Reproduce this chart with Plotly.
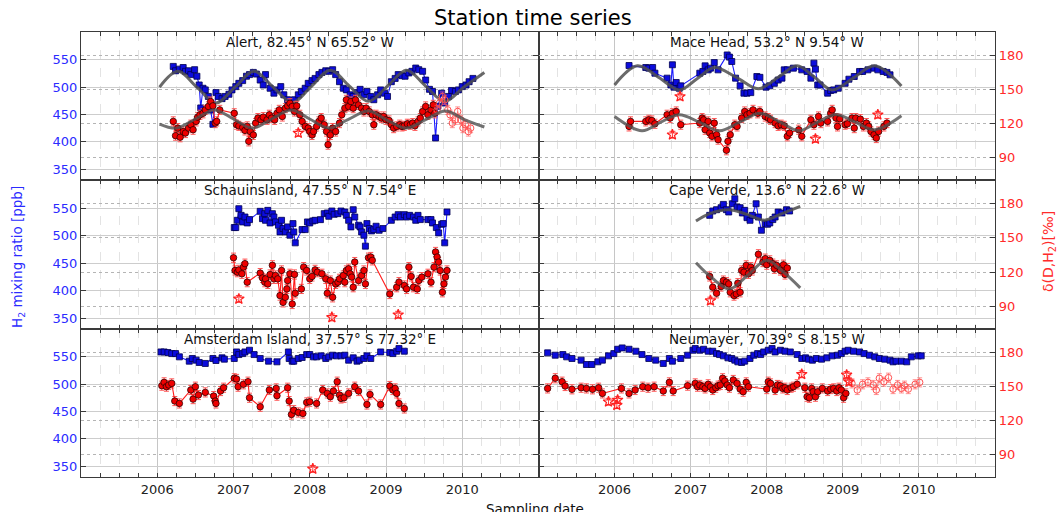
import plotly.graph_objects as go

# ======================= DATA =======================
# ---- Alert ----
ALERT_H2_T = [2006.21, 2006.24, 2006.29, 2006.34, 2006.37, 2006.41, 2006.44, 2006.49, 2006.52, 2006.55,
              2006.57, 2006.60, 2006.63, 2006.67, 2006.70, 2006.73, 2006.77, 2006.80, 2006.85, 2006.89,
              2006.94, 2006.98, 2007.03, 2007.07, 2007.12, 2007.17, 2007.21, 2007.26, 2007.30, 2007.35,
              2007.39, 2007.42, 2007.48, 2007.53, 2007.57, 2007.62, 2007.66, 2007.71, 2007.76, 2007.80,
              2007.85, 2007.89, 2007.94, 2007.98, 2008.03, 2008.07, 2008.12, 2008.16, 2008.21, 2008.25,
              2008.30, 2008.34, 2008.39, 2008.44, 2008.48, 2008.53, 2008.57, 2008.62, 2008.66, 2008.71,
              2008.75, 2008.80, 2008.84, 2008.89, 2008.93, 2008.98, 2009.02, 2009.07, 2009.12, 2009.16,
              2009.21, 2009.25, 2009.30, 2009.34, 2009.39, 2009.43, 2009.48, 2009.52, 2009.57, 2009.61,
              2009.65, 2009.68, 2009.73, 2009.77, 2009.82, 2009.86, 2009.91, 2009.95, 2010.00, 2010.05,
              2010.09, 2010.14]
ALERT_H2 = [538, 530, 533, 536, 529, 530, 523, 532, 520, 504,
            462, 498, 495, 483, 458, 432, 490, 483, 479, 483,
            487, 495, 501, 507, 512, 520, 523, 527, 524, 513,
            504, 523, 498, 489, 495, 501, 486, 477, 463, 477,
            486, 492, 498, 507, 512, 516, 523, 527, 530, 529,
            532, 523, 510, 498, 495, 486, 483, 490, 496, 486,
            492, 483, 477, 486, 495, 489, 483, 510, 516, 523,
            521, 520, 526, 529, 535, 532, 529, 513, 496, 492,
            407, 465, 489, 471, 483, 494, 492, 495, 501, 504,
            510, 516]
ALERT_D_T = [2006.21, 2006.24, 2006.27, 2006.30, 2006.34, 2006.37, 2006.41, 2006.44, 2006.47, 2006.51,
             2006.53, 2006.56, 2006.60, 2006.63, 2006.67, 2006.70, 2006.73, 2006.76, 2006.78, 2006.82,
             2007.01, 2007.04, 2007.07, 2007.12, 2007.15, 2007.18, 2007.20, 2007.22, 2007.26, 2007.29,
             2007.32, 2007.36, 2007.39, 2007.44, 2007.47, 2007.50, 2007.54, 2007.57, 2007.60, 2007.64,
             2007.68, 2007.71, 2007.74, 2007.77, 2007.80, 2007.83, 2007.87, 2007.90, 2007.94, 2007.98,
             2008.00, 2008.03, 2008.05, 2008.09, 2008.12, 2008.15, 2008.19, 2008.22, 2008.24, 2008.27,
             2008.30, 2008.34, 2008.39, 2008.42, 2008.46, 2008.48, 2008.51, 2008.54, 2008.57, 2008.60,
             2008.64, 2008.68, 2008.71, 2008.74, 2008.78, 2008.82, 2008.84, 2008.87, 2008.91, 2008.94,
             2008.97, 2009.00, 2009.04, 2009.07, 2009.10, 2009.14, 2009.18, 2009.21, 2009.24, 2009.28,
             2009.32, 2009.35, 2009.38, 2009.42, 2009.45, 2009.48, 2009.52, 2009.55, 2009.59, 2009.62,
             2009.64]
ALERT_D = [121.9, 109.4, 116.0, 108.0, 113.0, 111.7, 116.0, 119.0, 114.6, 121.9,
           125.6, 127.7, 129.0, 132.0, 135.0, 139.3, 135.5, 120.4, 121.9, 132.0,
           129.0, 119.0, 118.0, 116.6, 114.0, 117.5, 104.4, 113.0, 110.0, 120.4,
           124.8, 123.3, 125.6, 123.3, 127.7, 124.8, 123.3, 129.0, 132.0, 126.2,
           133.5, 135.5, 137.8, 135.0, 130.6, 135.5, 127.7, 121.9, 117.5, 116.0,
           113.0, 110.0, 113.0, 117.5, 121.9, 124.8, 119.0, 113.0, 101.5, 110.0,
           116.0, 113.0, 120.4, 127.7, 133.5, 140.8, 135.0, 139.3, 133.5, 140.8,
           136.4, 133.5, 130.6, 133.5, 130.6, 127.7, 119.0, 127.7, 126.2, 124.8,
           126.2, 123.3, 122.7, 119.0, 116.0, 117.5, 119.0, 117.5, 118.0, 119.8,
           119.0, 120.4, 118.0, 121.9, 124.8, 130.6, 135.0, 127.7, 132.0, 136.4,
           129.0]
ALERT_OPEN_T = [2009.67, 2009.70, 2009.74, 2009.77, 2009.81, 2009.84, 2009.87, 2009.91, 2009.94, 2009.98,
                2010.01, 2010.04, 2010.08, 2010.11]
ALERT_OPEN = [132.0, 137.8, 143.7, 140.8, 132.0, 127.7, 120.4, 123.3, 130.6, 123.3,
              116.0, 119.0, 113.0, 116.0]
ALERT_STAR_T = [2007.85]
ALERT_STAR = [111.7]
ALERT_FIT_H2_T = [2006.03, 2006.27, 2006.52, 2006.77, 2007.02, 2007.27, 2007.52, 2007.77, 2008.02, 2008.27,
                  2008.52, 2008.77, 2009.02, 2009.27, 2009.52, 2009.77, 2010.02, 2010.29]
ALERT_FIT_H2 = [500, 529, 500, 471, 500, 529, 500, 472, 501, 531, 502, 474, 502, 531, 502, 474, 500, 527]
ALERT_FIT_D_T = [2006.03, 2006.25, 2006.50, 2006.75, 2007.00, 2007.25, 2007.50, 2007.76, 2008.00, 2008.25,
                 2008.50, 2008.77, 2009.00, 2009.27, 2009.52, 2009.78, 2010.03, 2010.29]
ALERT_FIT_D = [119.5, 116, 124, 132, 124, 116, 124, 132, 124, 116, 123.5, 131, 123.5, 116, 123.5, 131, 123.5, 117]

# ---- Mace Head ----
MACE_H2_T = [2006.19, 2006.41, 2006.45, 2006.50, 2006.53, 2006.69, 2006.74, 2006.76, 2006.78, 2006.81,
             2006.85, 2006.87, 2007.12, 2007.16, 2007.19, 2007.23, 2007.26, 2007.31, 2007.36, 2007.48,
             2007.51, 2007.54, 2007.59, 2007.65, 2007.70, 2007.74, 2007.79, 2007.87, 2007.91, 2007.99,
             2008.04, 2008.10, 2008.15, 2008.20, 2008.23, 2008.27, 2008.35, 2008.46, 2008.53, 2008.58,
             2008.62, 2008.64, 2008.67, 2008.70, 2008.80, 2008.84, 2008.88, 2008.94, 2009.03, 2009.08,
             2009.15, 2009.22, 2009.26, 2009.33, 2009.41, 2009.46, 2009.53, 2009.58, 2009.62]
MACE_H2 = [539.6, 536, 534.8, 536, 525.6, 516.5, 504, 541, 500, 508.5,
           498, 502.4, 525.6, 528.7, 539, 531.7, 534.8, 545, 531.7, 559,
           555, 547, 516.5, 502.4, 489, 489, 490, 519.5, 518, 500,
           502.4, 507, 513, 516.5, 531.7, 531.7, 534.8, 531.7, 528.7, 516.5,
           544, 533, 504, 504, 489, 494, 495, 498, 507, 514.6,
           519.5, 528.7, 528.7, 531.7, 534.8, 531.7, 528.7, 527, 522.6]
MACE_D_T = [2006.19, 2006.21, 2006.41, 2006.45, 2006.49, 2006.53, 2006.69, 2006.73, 2006.76, 2006.81,
            2006.87, 2007.12, 2007.15, 2007.17, 2007.19, 2007.23, 2007.25, 2007.28, 2007.31, 2007.34,
            2007.36, 2007.47, 2007.49, 2007.52, 2007.58, 2007.61, 2007.67, 2007.71, 2007.74, 2007.78,
            2007.82, 2007.88, 2007.91, 2007.98, 2008.02, 2008.05, 2008.11, 2008.15, 2008.19, 2008.23,
            2008.27, 2008.30, 2008.42, 2008.46, 2008.58, 2008.62, 2008.68, 2008.71, 2008.80, 2008.84,
            2008.86, 2008.91, 2008.93, 2008.96, 2009.03, 2009.06, 2009.12, 2009.15, 2009.17, 2009.23,
            2009.27, 2009.31, 2009.34, 2009.37, 2009.41, 2009.44, 2009.47, 2009.54, 2009.58]
MACE_D = [117.5, 121.9, 121.9, 123.3, 122.7, 119.8, 127.7, 124.8, 129.0, 130.6,
          119.0, 120.4, 124.8, 123.3, 114.6, 121.9, 111.7, 108.8, 120.4, 110.2,
          105.9, 96.6, 104.4, 110.2, 119.0, 117.5, 124.8, 130.6, 127.7, 129.0,
          132.0, 129.0, 130.6, 126.2, 124.8, 123.3, 120.4, 118.0, 119.0, 118.0,
          108.8, 111.7, 114.6, 108.8, 123.3, 119.0, 126.2, 120.4, 121.9, 129.0,
          132.0, 124.8, 117.5, 124.2, 119.0, 119.8, 124.8, 116.0, 124.8, 123.9,
          117.5, 120.4, 117.5, 113.0, 110.2, 107.3, 113.0, 117.5, 120.4]
MACE_STAR_T = [2006.76, 2006.86, 2008.64, 2009.46]
MACE_STAR = [110.2, 143.7, 106.5, 127.7]
MACE_FIT_H2_T = [2006.00, 2006.30, 2006.58, 2006.85, 2007.08, 2007.31, 2007.60, 2007.89, 2008.15, 2008.40,
                 2008.63, 2008.86, 2009.14, 2009.42, 2009.77]
MACE_FIT_H2 = [504, 539, 518, 495, 515, 536, 518, 497, 518, 539, 518, 495, 517, 539, 502]
MACE_FIT_D_T = [2006.00, 2006.36, 2006.60, 2006.85, 2007.12, 2007.38, 2007.65, 2007.91, 2008.17, 2008.42,
                2008.66, 2008.91, 2009.17, 2009.42, 2009.77]
MACE_FIT_D = [126.2, 113.7, 121, 127.7, 121, 113.7, 121.5, 129, 121.5, 113.7, 121, 128, 121, 114.6, 126.8]

# ---- Schauinsland ----
SCHAU_H2_T = [2007.01, 2007.03, 2007.05, 2007.07, 2007.10, 2007.12, 2007.15, 2007.18, 2007.21, 2007.35,
              2007.38, 2007.41, 2007.42, 2007.45, 2007.48, 2007.51, 2007.53, 2007.55, 2007.59, 2007.61,
              2007.63, 2007.65, 2007.68, 2007.71, 2007.74, 2007.78, 2007.79, 2007.81, 2007.90, 2007.94,
              2007.97, 2008.00, 2008.04, 2008.07, 2008.14, 2008.19, 2008.23, 2008.25, 2008.29, 2008.32,
              2008.37, 2008.41, 2008.46, 2008.48, 2008.51, 2008.54, 2008.57, 2008.59, 2008.64, 2008.66,
              2008.68, 2008.71, 2008.73, 2008.75, 2008.78, 2008.81, 2008.84, 2008.87, 2008.91, 2008.96,
              2009.07, 2009.12, 2009.16, 2009.19, 2009.24, 2009.27, 2009.31, 2009.36, 2009.39, 2009.42,
              2009.45, 2009.55, 2009.59, 2009.61, 2009.66, 2009.69, 2009.73, 2009.75, 2009.77, 2009.80]
SCHAU_H2 = [514.5, 514.5, 527.7, 548.8, 536.7, 524.7, 533.7, 522.9, 529.0, 544.0,
            530.7, 539.8, 527.7, 545.8, 522.9, 539.8, 533.7, 524.7, 518.7, 506.6,
            527.7, 512.7, 506.6, 515.7, 500.6, 521.7, 506.6, 486.7, 510.8, 510.8,
            524.7, 522.9, 526.5, 527.7, 528.9, 539.8, 541.0, 535.0, 544.6, 538.6,
            539.8, 544.6, 542.8, 536.7, 527.7, 515.7, 547.0, 533.7, 518.7, 515.7,
            506.6, 500.6, 480.7, 521.7, 512.7, 508.4, 510.8, 516.9, 509.6, 512.7,
            527.7, 533.7, 538.0, 533.7, 538.0, 533.7, 536.7, 533.7, 527.7, 536.7,
            529.0, 529.0, 529.0, 522.9, 514.5, 504.8, 520.5, 521.7, 486.7, 542.8]
SCHAU_D_T = [2007.00, 2007.02, 2007.05, 2007.07, 2007.11, 2007.13, 2007.15, 2007.18, 2007.35, 2007.38,
             2007.41, 2007.42, 2007.45, 2007.48, 2007.51, 2007.53, 2007.55, 2007.58, 2007.61, 2007.63,
             2007.65, 2007.68, 2007.70, 2007.71, 2007.74, 2007.77, 2007.80, 2007.81, 2007.89, 2007.92,
             2007.96, 2008.00, 2008.03, 2008.07, 2008.10, 2008.16, 2008.21, 2008.23, 2008.27, 2008.30,
             2008.34, 2008.37, 2008.39, 2008.44, 2008.46, 2008.48, 2008.51, 2008.53, 2008.55, 2008.57,
             2008.59, 2008.64, 2008.68, 2008.71, 2008.73, 2008.77, 2008.80, 2008.82, 2009.05, 2009.14,
             2009.17, 2009.24, 2009.27, 2009.30, 2009.33, 2009.36, 2009.41, 2009.43, 2009.47, 2009.55,
             2009.59, 2009.63, 2009.65, 2009.67, 2009.69, 2009.71, 2009.74, 2009.76, 2009.78, 2009.80]
SCHAU_D = [132.6, 121.5, 120.0, 122.0, 118.6, 124.4, 127.4, 111.3, 119.2, 115.0,
           111.3, 114.2, 109.8, 118.0, 126.0, 114.2, 117.1, 114.2, 99.6, 121.5,
           93.7, 98.1, 105.4, 112.7, 118.6, 92.3, 118.0, 101.6, 105.4, 124.4,
           121.5, 114.2, 116.3, 122.0, 120.0, 118.6, 114.2, 101.6, 112.7, 98.1,
           109.8, 111.3, 114.2, 117.1, 111.3, 121.5, 123.0, 118.6, 115.7, 106.9,
           128.8, 112.7, 117.1, 121.5, 109.8, 132.6, 133.2, 130.3, 101.0, 106.9,
           111.3, 108.4, 105.4, 124.4, 116.3, 106.9, 105.4, 112.7, 115.7, 118.6,
           111.3, 124.4, 137.6, 133.2, 128.8, 121.5, 102.5, 109.8, 115.7, 121.5]
SCHAU_STAR_T = [2007.07, 2008.29, 2009.16]
SCHAU_STAR = [96.7, 80.6, 82.9]

# ---- Cape Verde ----
CAPE_H2_T = [2007.25, 2007.29, 2007.34, 2007.40, 2007.43, 2007.47, 2007.50, 2007.55, 2007.58, 2007.61,
             2007.65, 2007.68, 2007.71, 2007.74, 2007.78, 2007.81, 2007.86, 2007.89, 2007.93, 2007.98,
             2008.01, 2008.04, 2008.08, 2008.11, 2008.15, 2008.20, 2008.26, 2008.30]
CAPE_H2 = [536.7, 544.6, 547.0, 550.6, 556.6, 547.0, 542.8, 557.8, 566.9, 551.8,
           550.6, 541.0, 545.8, 532.5, 527.7, 536.7, 557.8, 533.7, 509.6, 521.7,
           520.5, 522.9, 529.0, 533.7, 542.8, 541.0, 547.0, 544.6]
CAPE_D_T = [2007.25, 2007.29, 2007.34, 2007.40, 2007.43, 2007.47, 2007.50, 2007.52, 2007.57, 2007.60,
            2007.62, 2007.65, 2007.67, 2007.70, 2007.73, 2007.76, 2007.79, 2007.81, 2007.89, 2007.95,
            2007.98, 2008.00, 2008.04, 2008.08, 2008.10, 2008.13, 2008.18, 2008.22, 2008.24, 2008.27]
CAPE_D = [116.3, 106.9, 101.6, 107.5, 112.7, 111.3, 109.8, 102.5, 99.6, 101.0,
          110.4, 102.5, 121.5, 120.0, 125.9, 118.6, 124.4, 121.5, 135.6, 128.8,
          131.8, 126.5, 130.3, 127.4, 123.0, 125.9, 121.5, 126.5, 118.0, 123.6]
CAPE_STAR_T = [2007.26]
CAPE_STAR = [95.2]
CAPE_FIT_H2_T = [2007.07, 2007.25, 2007.50, 2007.75, 2007.97, 2008.20, 2008.44]
CAPE_FIT_H2 = [526.5, 540, 547, 538, 528, 540, 553]
CAPE_FIT_D_T = [2007.07, 2007.28, 2007.51, 2007.76, 2008.00, 2008.22, 2008.44]
CAPE_FIT_D = [128.2, 115, 105.4, 118, 130.3, 120, 106.3]

# ---- Amsterdam Island ----
AMS_H2_T = [2006.05, 2006.09, 2006.14, 2006.19, 2006.24, 2006.29, 2006.42, 2006.46, 2006.51, 2006.55,
            2006.63, 2006.73, 2006.77, 2006.85, 2006.88, 2007.01, 2007.04, 2007.07, 2007.12, 2007.15,
            2007.21, 2007.27, 2007.35, 2007.46, 2007.57, 2007.72, 2007.73, 2007.77, 2007.79, 2007.85,
            2007.90, 2007.96, 2008.00, 2008.05, 2008.09, 2008.15, 2008.21, 2008.25, 2008.30, 2008.35,
            2008.41, 2008.46, 2008.51, 2008.57, 2008.62, 2008.65, 2008.71, 2008.75, 2008.80, 2008.93,
            2009.05, 2009.09, 2009.14, 2009.17, 2009.24]
AMS_H2 = [559.0, 559.0, 557.9, 556.0, 556.0, 550.0, 542.1, 547.0, 544.0, 539.7,
          537.9, 547.0, 543.3, 548.2, 545.8, 547.0, 559.0, 554.2, 556.0, 559.0,
          562.1, 554.2, 547.0, 542.1, 540.9, 559.0, 547.0, 542.1, 542.1, 547.0,
          548.8, 554.2, 554.2, 550.0, 550.0, 551.8, 547.0, 550.0, 553.0, 551.8,
          551.8, 553.0, 543.9, 548.2, 542.1, 543.9, 547.0, 551.8, 547.0, 559.0,
          557.9, 556.0, 560.3, 565.2, 560.3]
AMS_D_T = [2006.06, 2006.09, 2006.12, 2006.15, 2006.19, 2006.23, 2006.29, 2006.44, 2006.47, 2006.50,
           2006.54, 2006.63, 2006.74, 2006.76, 2006.77, 2006.83, 2006.87, 2007.01, 2007.04, 2007.06,
           2007.13, 2007.19, 2007.21, 2007.35, 2007.47, 2007.56, 2007.57, 2007.71, 2007.73, 2007.76,
           2007.79, 2007.85, 2007.91, 2007.96, 2008.00, 2008.09, 2008.17, 2008.23, 2008.27, 2008.31,
           2008.36, 2008.39, 2008.41, 2008.45, 2008.51, 2008.59, 2008.64, 2008.75, 2008.79, 2008.93,
           2009.05, 2009.09, 2009.12, 2009.14, 2009.17, 2009.24]
AMS_D = [150.6, 153.5, 149.7, 151.2, 152.6, 137.1, 135.0, 146.8, 138.8, 149.7,
         142.4, 144.7, 141.5, 137.1, 135.0, 145.9, 148.8, 157.1, 156.5, 149.7,
         151.8, 154.1, 140.0, 132.1, 146.8, 148.2, 141.8, 148.8, 137.1, 125.3,
         129.1, 127.1, 126.2, 135.9, 136.5, 135.0, 146.8, 143.8, 140.9, 145.9,
         154.1, 142.4, 139.4, 140.0, 143.8, 149.7, 145.9, 134.1, 142.9, 134.1,
         150.3, 146.8, 148.2, 143.8, 135.0, 130.6]
AMS_STAR_T = [2008.04]
AMS_STAR = [77.6]

# ---- Neumayer ----
NEU_H2_T = [2005.12, 2005.22, 2005.32, 2005.37, 2005.44, 2005.56, 2005.63, 2005.70, 2005.78, 2005.84,
            2005.92, 2005.99, 2006.04, 2006.10, 2006.19, 2006.28, 2006.36, 2006.45, 2006.54, 2006.64,
            2006.72, 2006.76, 2006.87, 2006.96, 2007.03, 2007.06, 2007.12, 2007.17, 2007.23, 2007.29,
            2007.34, 2007.38, 2007.43, 2007.49, 2007.54, 2007.58, 2007.62, 2007.67, 2007.71, 2007.78,
            2007.83, 2007.88, 2007.92, 2007.96, 2008.02, 2008.07, 2008.11, 2008.18, 2008.24, 2008.31,
            2008.40, 2008.46, 2008.51, 2008.55, 2008.60, 2008.65, 2008.72, 2008.79, 2008.86, 2008.93,
            2008.98, 2009.03, 2009.07, 2009.14, 2009.22, 2009.28, 2009.35, 2009.42, 2009.48, 2009.55,
            2009.62, 2009.66, 2009.70, 2009.77, 2009.84, 2009.90, 2009.99, 2010.03]
NEU_H2 = [557.3, 553.0, 554.2, 550.0, 547.0, 544.0, 536.0, 536.0, 540.9, 544.0,
          551.8, 556.0, 563.9, 566.4, 563.9, 560.3, 554.2, 547.0, 544.0, 537.9,
          547.0, 542.1, 547.0, 553.0, 562.1, 565.2, 562.1, 563.9, 560.3, 560.3,
          556.0, 554.2, 551.8, 548.2, 547.0, 544.0, 540.9, 539.7, 542.1, 547.0,
          553.0, 556.0, 554.2, 559.0, 562.1, 565.2, 559.0, 562.1, 560.3, 559.0,
          554.2, 547.0, 548.2, 545.8, 543.9, 547.0, 545.8, 548.2, 551.8, 553.0,
          556.0, 560.3, 562.1, 560.3, 559.0, 556.0, 553.0, 550.0, 547.0, 545.8,
          543.9, 540.9, 542.1, 542.1, 540.9, 550.0, 551.8, 551.8]
NEU_D_T = [2005.12, 2005.22, 2005.31, 2005.35, 2005.44, 2005.56, 2005.63, 2005.71, 2005.79, 2005.84,
           2006.09, 2006.19, 2006.27, 2006.37, 2006.44, 2006.52, 2006.64, 2006.72, 2006.77, 2006.96,
           2007.06, 2007.09, 2007.12, 2007.16, 2007.19, 2007.23, 2007.26, 2007.29, 2007.33, 2007.36,
           2007.39, 2007.42, 2007.45, 2007.48, 2007.51, 2007.56, 2007.61, 2007.65, 2007.69, 2007.73,
           2007.76, 2008.00, 2008.02, 2008.05, 2008.11, 2008.14, 2008.18, 2008.21, 2008.24, 2008.27,
           2008.32, 2008.35, 2008.40, 2008.50, 2008.53, 2008.56, 2008.59, 2008.61, 2008.64, 2008.67,
           2008.73, 2008.80, 2008.84, 2008.88, 2008.92, 2008.95, 2008.98, 2009.01, 2009.04]
NEU_D = [148.2, 157.1, 154.1, 150.3, 147.4, 148.8, 148.2, 147.4, 148.8, 143.8,
         148.2, 143.8, 146.8, 149.7, 148.8, 149.7, 145.9, 153.5, 145.9, 150.6,
         152.6, 149.7, 151.2, 149.7, 148.2, 151.8, 149.7, 146.8, 148.8, 150.6,
         151.2, 157.1, 154.7, 151.2, 148.8, 155.6, 152.6, 147.6, 145.3, 153.5,
         149.7, 147.6, 154.1, 152.6, 146.8, 151.2, 150.6, 148.2, 148.8, 146.8,
         148.8, 149.7, 151.8, 148.8, 140.9, 140.0, 148.2, 145.3, 140.9, 145.3,
         148.2, 145.9, 147.6, 148.2, 145.9, 148.8, 146.8, 140.0, 143.8]
NEU_OPEN_T = [2009.08, 2009.12, 2009.19, 2009.26, 2009.33, 2009.40, 2009.44, 2009.48, 2009.54, 2009.60,
              2009.66, 2009.72, 2009.77, 2009.81, 2009.86, 2009.95, 2010.01]
NEU_OPEN = [155.6, 152.6, 146.8, 151.8, 153.5, 151.2, 146.8, 157.1, 154.1, 157.6,
            147.6, 151.2, 148.2, 150.6, 147.6, 151.8, 153.5]
NEU_STAR_T = [2005.92, 2006.03, 2006.04, 2008.46, 2009.05, 2009.08]
NEU_STAR = [136.5, 133.5, 138.0, 160.6, 160.0, 154.0]

STATIONS = ["Alert, 82.45° N 65.52° W", "Mace Head, 53.2° N 9.54° W",
            "Schauinsland, 47.55° N 7.54° E", "Cape Verde, 13.6° N 22.6° W",
            "Amsterdam Island, 37.57° S 77.32° E", "Neumayer, 70.39° S 8.15° W"]
YEAR_TICKS = [2006, 2007, 2008, 2009, 2010]
H2_TICKS = [350, 400, 450, 500, 550]
D_TICKS = [90, 120, 150, 180]

# ======================= STYLE / LAYOUT =======================
W, H = 1058, 512
COLS = [(81, 538.5), (538.5, 995)]
ROWS = [(32, 180), (180, 329), (329, 477)]
X_RANGE = [2005, 2011]
H2_RANGE = [330, 601]
D_RANGE = [70.5, 200.3]
FONT = "DejaVu Sans"
BLUE_TXT = "#2b2bff"
RED_TXT = "#ff2a2a"
FRAME = "#3a3a3a"

panels = [
    dict(h2=(ALERT_H2_T, ALERT_H2), d=(ALERT_D_T, ALERT_D), op=(ALERT_OPEN_T, ALERT_OPEN),
         st=(ALERT_STAR_T, ALERT_STAR), fh=(ALERT_FIT_H2_T, ALERT_FIT_H2), fd=(ALERT_FIT_D_T, ALERT_FIT_D)),
    dict(h2=(MACE_H2_T, MACE_H2), d=(MACE_D_T, MACE_D), op=None,
         st=(MACE_STAR_T, MACE_STAR), fh=(MACE_FIT_H2_T, MACE_FIT_H2), fd=(MACE_FIT_D_T, MACE_FIT_D)),
    dict(h2=(SCHAU_H2_T, SCHAU_H2), d=(SCHAU_D_T, SCHAU_D), op=None,
         st=(SCHAU_STAR_T, SCHAU_STAR), fh=None, fd=None),
    dict(h2=(CAPE_H2_T, CAPE_H2), d=(CAPE_D_T, CAPE_D), op=None,
         st=(CAPE_STAR_T, CAPE_STAR), fh=(CAPE_FIT_H2_T, CAPE_FIT_H2), fd=(CAPE_FIT_D_T, CAPE_FIT_D)),
    dict(h2=(AMS_H2_T, AMS_H2), d=(AMS_D_T, AMS_D), op=None,
         st=(AMS_STAR_T, AMS_STAR), fh=None, fd=None),
    dict(h2=(NEU_H2_T, NEU_H2), d=(NEU_D_T, NEU_D), op=(NEU_OPEN_T, NEU_OPEN),
         st=(NEU_STAR_T, NEU_STAR), fh=None, fd=None),
]

fig = go.Figure()
layout = {}
annotations = []


def ax_ids(k):
    xs = "" if k == 1 else str(k)
    y1 = 2 * k - 1
    y2 = 2 * k
    ys1 = "" if y1 == 1 else str(y1)
    return ("x" + xs, "y" + ys1, "y" + str(y2),
            "xaxis" + xs, "yaxis" + ys1, "yaxis" + str(y2))


for i, p in enumerate(panels):
    k = i + 1
    r, c = divmod(i, 2)
    xr, yr1, yr2, xk, yk1, yk2 = ax_ids(k)
    x0, x1 = COLS[c]
    t0, t1 = ROWS[r]
    xdom = [x0 / W, x1 / W]
    ydom = [1 - t1 / H, 1 - t0 / H]

    layout[xk] = dict(
        domain=xdom, anchor=yr1, range=X_RANGE, tickmode="array", tickvals=YEAR_TICKS,
        ticks="inside", ticklen=4, tickcolor=FRAME, showline=True, linecolor=FRAME, linewidth=1.3,
        mirror="ticks", showgrid=True, gridcolor="#c6c6c6", gridwidth=1, zeroline=False,
        showticklabels=(r == 2), tickfont=dict(family=FONT, size=13, color="#222222"),
        minor=dict(tick0=2005, dtick=0.25, ticks="inside", ticklen=4, tickcolor=FRAME,
                   showgrid=True, gridcolor="#e3e3e3", griddash="dash", gridwidth=1),
    )
    layout[yk1] = dict(
        domain=ydom, anchor=xr, range=H2_RANGE, tickmode="array", tickvals=H2_TICKS,
        side="left", ticks="inside", ticklen=5, tickcolor=FRAME, showline=True, linecolor=FRAME,
        linewidth=1.3, showgrid=True, gridcolor="#cdcdcd", gridwidth=1.2, zeroline=False,
        showticklabels=(c == 0), tickfont=dict(family=FONT, size=13, color=BLUE_TXT),
    )
    layout[yk2] = dict(
        domain=ydom, anchor=xr, overlaying=yr1, range=D_RANGE, tickmode="array", tickvals=D_TICKS,
        side="right", ticks="inside", ticklen=5, tickcolor=FRAME, showline=True, linecolor=FRAME,
        linewidth=1.3, showgrid=True, gridcolor="#b4b4b4", griddash="dot", gridwidth=1, zeroline=False,
        showticklabels=(c == 1), tickfont=dict(family=FONT, size=13, color=RED_TXT),
    )

    # panel title
    annotations.append(dict(
        text=STATIONS[i], x=(x0 + x1) / 2 / W, y=1 - (t0 + 10) / H, xref="paper", yref="paper",
        xanchor="center", yanchor="middle", showarrow=False,
        font=dict(family=FONT, size=13.5, color="#111111")))

    # H2 (blue squares)
    t, v = p["h2"]
    fig.add_trace(go.Scatter(
        x=t, y=v, xaxis=xr, yaxis=yr1, mode="lines+markers",
        line=dict(color="#1a1aff", width=1.1),
        marker=dict(symbol="square", size=6, color="#0c0cdc", line=dict(color="#000050", width=0.8)),
        error_y=dict(type="constant", value=3, color="#3a3aff", thickness=1, width=2),
        showlegend=False))
    if p["fh"] is not None:
        t, v = p["fh"]
        fig.add_trace(go.Scatter(
            x=t, y=v, xaxis=xr, yaxis=yr1, mode="lines",
            line=dict(color="#505050", width=3, shape="spline", smoothing=1.0),
            opacity=0.85, showlegend=False))

    # dD (red circles)
    t, v = p["d"]
    fig.add_trace(go.Scatter(
        x=t, y=v, xaxis=xr, yaxis=yr2, mode="lines+markers",
        line=dict(color="#ff1a1a", width=1.1),
        marker=dict(symbol="circle", size=6.5, color="#ee0000", line=dict(color="#300000", width=0.8)),
        error_y=dict(type="constant", value=4, color="#ff5555", thickness=1, width=2.5),
        showlegend=False))
    if p["op"] is not None:
        t, v = p["op"]
        fig.add_trace(go.Scatter(
            x=t, y=v, xaxis=xr, yaxis=yr2, mode="lines+markers",
            line=dict(color="rgba(255,80,80,0.55)", width=1),
            marker=dict(symbol="circle-open", size=6.5, color="#ff5050", line=dict(width=1)),
            error_y=dict(type="constant", value=4, color="rgba(255,100,100,0.7)", thickness=1, width=2.5),
            showlegend=False))
    t, v = p["st"]
    fig.add_trace(go.Scatter(
        x=t, y=v, xaxis=xr, yaxis=yr2, mode="markers",
        marker=dict(symbol="star-open", size=8, color="#ff2020", line=dict(width=1.2)),
        error_y=dict(type="constant", value=3, color="#ff4040", thickness=1, width=3),
        showlegend=False))
    if p["fd"] is not None:
        t, v = p["fd"]
        fig.add_trace(go.Scatter(
            x=t, y=v, xaxis=xr, yaxis=yr2, mode="lines",
            line=dict(color="#505050", width=3, shape="spline", smoothing=1.0),
            opacity=0.8, showlegend=False))

# global titles
annotations.append(dict(text="Station time series", x=533 / W, y=1 - 18 / H, xref="paper", yref="paper",
                        xanchor="center", yanchor="middle", showarrow=False,
                        font=dict(family=FONT, size=21, color="#000000")))
annotations.append(dict(text="Sampling date", x=535 / W, y=1 - 499 / H, xref="paper", yref="paper",
                        xanchor="center", yanchor="top", showarrow=False,
                        font=dict(family=FONT, size=13.5, color="#111111")))
annotations.append(dict(text="H<sub>2</sub> mixing ratio [ppb]", x=18 / W, y=1 - 257 / H,
                        xref="paper", yref="paper", xanchor="center", yanchor="middle",
                        textangle=-90, showarrow=False,
                        font=dict(family=FONT, size=13.5, color=BLUE_TXT)))
annotations.append(dict(text="δ(D,H<sub>2</sub>)[‰]", x=1049 / W, y=1 - 252 / H,
                        xref="paper", yref="paper", xanchor="center", yanchor="middle",
                        textangle=-90, showarrow=False,
                        font=dict(family=FONT, size=14, color=RED_TXT)))

fig.update_layout(
    width=W, height=H, margin=dict(l=0, r=0, t=0, b=0),
    paper_bgcolor="white", plot_bgcolor="white",
    font=dict(family=FONT), annotations=annotations, **layout)

fig.write_html("out.html")
